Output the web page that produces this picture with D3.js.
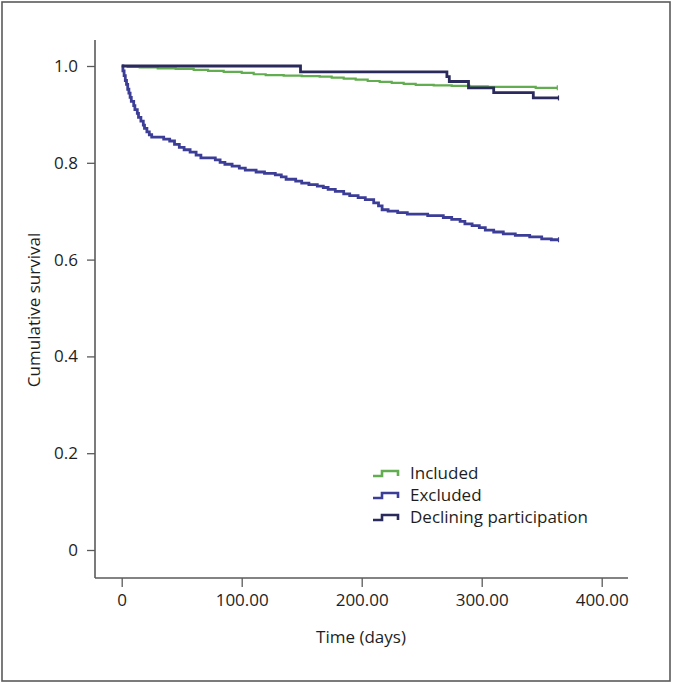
<!DOCTYPE html>
<html>
<head>
<meta charset="utf-8">
<script src="https://cdn.jsdelivr.net/npm/d3@7"></script>
<style>
  html, body { margin: 0; padding: 0; background: #fff; }
  svg { display: block; }
  text { font-family: "Open Sans", "Noto Sans", sans-serif; fill: #1e1e1e; }
</style>
</head>
<body>
<svg id="chart" width="673" height="684"></svg>
<script>
// ---- Data ----
const seriesNames = ["Included", "Excluded", "Declining participation"];
const seriesColors = ["#62ad4f", "#3b3d96", "#2a2a5c"];

const includedTime = [0, 5, 15, 30, 45, 60, 72, 85, 100, 110, 120, 135, 150, 165, 175, 185, 195, 205, 215, 225, 235, 245, 260, 275, 290, 305, 345];
const includedSurv = [1.0, 0.998, 0.997, 0.995, 0.994, 0.992, 0.990, 0.988, 0.986, 0.983, 0.981, 0.980, 0.979, 0.978, 0.976, 0.974, 0.972, 0.969, 0.967, 0.965, 0.963, 0.961, 0.960, 0.959, 0.958, 0.957, 0.955];

const excludedTime = [0, 1, 2, 3, 4, 5, 6, 7, 8, 10, 11, 13, 14, 16, 18, 19, 21, 23, 25, 35, 40, 44, 48, 52, 57, 62, 66, 78, 82, 86, 92, 98, 103, 112, 119, 128, 133, 137, 145, 150, 156, 163, 168, 172, 178, 185, 190, 197, 203, 210, 214, 217, 222, 230, 238, 255, 268, 275, 282, 286, 292, 298, 303, 310, 318, 328, 340, 350, 358];
const excludedSurv = [1.0, 0.99, 0.98, 0.97, 0.962, 0.952, 0.944, 0.935, 0.927, 0.918, 0.91, 0.902, 0.894, 0.886, 0.878, 0.871, 0.864, 0.858, 0.853, 0.849, 0.845, 0.838, 0.832, 0.827, 0.822, 0.816, 0.81, 0.806, 0.801, 0.797, 0.793, 0.789, 0.785, 0.781, 0.778, 0.775, 0.771, 0.766, 0.762, 0.758, 0.755, 0.752, 0.749, 0.745, 0.741, 0.736, 0.732, 0.728, 0.724, 0.717, 0.711, 0.703, 0.700, 0.697, 0.694, 0.691, 0.687, 0.683, 0.679, 0.674, 0.670, 0.666, 0.661, 0.657, 0.653, 0.650, 0.647, 0.643, 0.641];

const decliningTime = [0, 149, 271, 273, 289, 310, 343];
const decliningSurv = [1.0, 0.988, 0.978, 0.968, 0.955, 0.945, 0.934];

const endTime = [363, 364, 364];

const xTicks = [0, 100, 200, 300, 400];
const yTicks = [0, 0.2, 0.4, 0.6, 0.8, 1.0];

// ---- Chart ----
const svg = d3.select("#chart");
const fs = 17;

// outer frame
svg.append("rect")
  .attr("x", 2).attr("y", 2).attr("width", 668).attr("height", 679)
  .attr("fill", "none").attr("stroke", "#5a5a5a").attr("stroke-width", 1.6);

const x = d3.scaleLinear().domain([0, 400]).range([121.7, 601.7]);
const y = d3.scaleLinear().domain([0, 1]).range([550, 66]);

const axisColor = "#5a5a5a";

// X axis
const xAxisG = svg.append("g").attr("transform", "translate(0,578)")
  .call(d3.axisBottom(x).tickValues(xTicks).tickSize(9).tickSizeOuter(0)
    .tickFormat(d => d === 0 ? "0" : d3.format(".2f")(d)));
xAxisG.select(".domain").remove();
xAxisG.selectAll(".tick line").attr("stroke", axisColor).attr("stroke-width", 1.3);
xAxisG.selectAll(".tick text").attr("font-size", fs).attr("dy", "1.0em").attr("y", 11)
  .style("font-family", "'Open Sans', sans-serif").attr("fill", "#1e1e1e");
svg.append("line").attr("x1", 95).attr("x2", 628).attr("y1", 578).attr("y2", 578)
  .attr("stroke", axisColor).attr("stroke-width", 1.6);

// Y axis
const yAxisG = svg.append("g").attr("transform", "translate(95,0)")
  .call(d3.axisLeft(y).tickValues(yTicks).tickSize(8).tickSizeOuter(0)
    .tickFormat(d => d === 0 ? "0" : d3.format(".1f")(d)));
yAxisG.select(".domain").remove();
yAxisG.selectAll(".tick line").attr("stroke", axisColor).attr("stroke-width", 1.3);
yAxisG.selectAll(".tick text").attr("font-size", fs).attr("x", -17)
  .style("font-family", "'Open Sans', sans-serif").attr("fill", "#1e1e1e");
svg.append("line").attr("x1", 95).attr("x2", 95).attr("y1", 40).attr("y2", 578)
  .attr("stroke", axisColor).attr("stroke-width", 1.6);

// Axis titles
svg.append("text").attr("x", 361).attr("y", 643).attr("text-anchor", "middle")
  .attr("font-size", fs).text("Time (days)");
svg.append("text").attr("transform", "translate(40,310) rotate(-90)")
  .attr("text-anchor", "middle").attr("font-size", fs).text("Cumulative survival");

// Curves
const line = d3.line().x(d => x(d[0])).y(d => y(d[1])).curve(d3.curveStepAfter);
function series(times, surv, end) {
  const pts = times.map((t, i) => [t, surv[i]]);
  pts.push([end, surv[surv.length - 1]]);
  return pts;
}
const allSeries = [
  series(includedTime, includedSurv, endTime[0]),
  series(excludedTime, excludedSurv, endTime[1]),
  series(decliningTime, decliningSurv, endTime[2])
];
const widths = [2.2, 2.8, 2.8];
const drawOrder = [1, 0, 2];
drawOrder.forEach(i => {
  svg.append("path").datum(allSeries[i])
    .attr("fill", "none").attr("stroke", seriesColors[i])
    .attr("stroke-width", widths[i]).attr("stroke-linejoin", "miter")
    .attr("d", line);
  const last = allSeries[i][allSeries[i].length - 1];
  svg.append("line")
    .attr("x1", x(last[0])).attr("x2", x(last[0]))
    .attr("y1", y(last[1]) - 2.5).attr("y2", y(last[1]) + 2.5)
    .attr("stroke", seriesColors[i]).attr("stroke-width", 1.2);
});

// Legend
const legend = svg.append("g").attr("transform", "translate(373,473)");
seriesNames.forEach((name, i) => {
  const g = legend.append("g").attr("transform", `translate(0,${i * 22})`);
  g.append("path").attr("d", "M0,3 H9 V-2 H25 V3")
    .attr("fill", "none").attr("stroke", seriesColors[i]).attr("stroke-width", 2.6);
  g.append("text").attr("x", 37).attr("y", 0).attr("dy", "0.35em")
    .attr("font-size", fs).text(name);
});
</script>
</body>
</html>
